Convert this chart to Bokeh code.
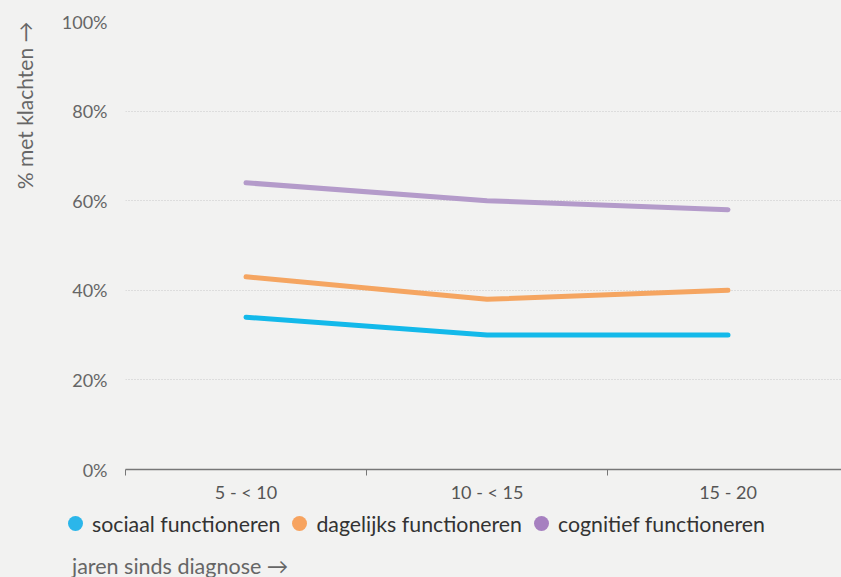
from bokeh.plotting import figure
from bokeh.layouts import column
from bokeh.models import (ColumnDataSource, FixedTicker, Title, Div,
                          Range1d, GlobalInlineStyleSheet)
from bokeh.embed import file_html
from bokeh.resources import INLINE

# ---- data ----
categories = ["5 - < 10", "10 - < 15", "15 - 20"]
sociaal = [34, 30, 30]
dagelijks = [43, 38, 40]
cognitief = [64, 60, 58]
series_names = ["sociaal functioneren", "dagelijks functioneren", "cognitief functioneren"]
y_ticks = [0, 20, 40, 60, 80, 100]
x_title = "jaren sinds diagnose →"
y_title = "% met klachten →"

BG = "#f2f2f1"
line_colors = ["#13b9ea", "#f5a561", "#b49bca"]
legend_colors = ["#2bb6ea", "#f7a35f", "#a680c0"]
FONT = "Lato"

xc = [i + 0.5 for i in range(len(categories))]

# ---- main chart ----
p = figure(width=841, height=509, output_backend="svg", toolbar_location=None,
           x_range=Range1d(0, 716 / 241), y_range=Range1d(0, 100),
           min_border_left=125, min_border_top=21, min_border_bottom=40,
           min_border_right=0, background_fill_color=BG, border_fill_color=BG,
           outline_line_color=None)

for vals, col in zip([sociaal, dagelijks, cognitief], line_colors):
    src = ColumnDataSource(dict(x=xc, y=vals))
    p.line("x", "y", source=src, line_color=col, line_width=5, line_cap="round", line_join="round")

# x axis
xa = p.xaxis[0]
xa.ticker = FixedTicker(ticks=xc, minor_ticks=list(range(len(categories) + 1)))
xa.major_label_overrides = {x: c for x, c in zip(xc, categories)}
xa.major_tick_line_color = None
xa.major_tick_out = 6
xa.minor_tick_out = 6
xa.minor_tick_in = 0
xa.minor_tick_line_color = "#777777"
xa.axis_line_color = "#777777"
xa.axis_line_width = 1.5
xa.major_label_text_font = FONT
xa.major_label_text_font_size = "18px"
xa.major_label_text_color = "#555555"
xa.major_label_standoff = 5

# y axis
ya = p.yaxis[0]
ya.ticker = FixedTicker(ticks=y_ticks)
ya.major_label_overrides = {v: f"{v}%" for v in y_ticks}
ya.axis_line_color = None
ya.major_tick_line_color = None
ya.major_tick_out = 0
ya.major_tick_in = 0
ya.minor_tick_line_color = None
ya.major_label_text_font = FONT
ya.major_label_text_font_size = "18px"
ya.major_label_text_color = "#666666"
ya.major_label_standoff = 18
# spacer label to push the y-title outward
ya.axis_label = "\u00a0"
ya.axis_label_text_font_size = "7px"
ya.axis_label_standoff = 0

p.xgrid.grid_line_color = None
p.ygrid.ticker = FixedTicker(ticks=y_ticks[1:])
p.ygrid.grid_line_color = "#c8c8c8"
p.ygrid.grid_line_dash = "1 2"
p.ygrid.grid_line_width = 1

p.add_layout(Title(text=y_title, align="right", vertical_align="top", standoff=20,
                   text_font=FONT, text_font_size="21px", text_font_style="normal",
                   text_color="#666666"), "left")

# ---- legend strip + x-axis title (HTML) ----
items_html = "".join(
    f'<span style="display:inline-flex;align-items:center;margin-right:12px;">'
    f'<span style="display:inline-block;width:15px;height:15px;border-radius:50%;'
    f'background:{c};margin-right:9px;"></span>{n}</span>'
    for n, c in zip(series_names, legend_colors)
)
html = (
    f'<div style="font-family:{FONT};font-size:21.3px;line-height:20px;color:#333333;'
    f'padding:4px 0 0 68px;white-space:nowrap;">{items_html}</div>'
    f'<div style="font-family:{FONT};font-size:21.5px;line-height:20px;color:#666666;'
    f'padding:22px 0 0 72px;white-space:nowrap;">{x_title}</div>'
)
legend_div = Div(text=html, width=841, height=68, styles={"background-color": BG, "margin": "0"})

layout = column(p, legend_div, spacing=0)
layout.stylesheets = [GlobalInlineStyleSheet(css=f"html,body{{background:{BG};overflow:hidden;margin:0;}}")]

open("out.html", "w").write(file_html(layout, INLINE))
